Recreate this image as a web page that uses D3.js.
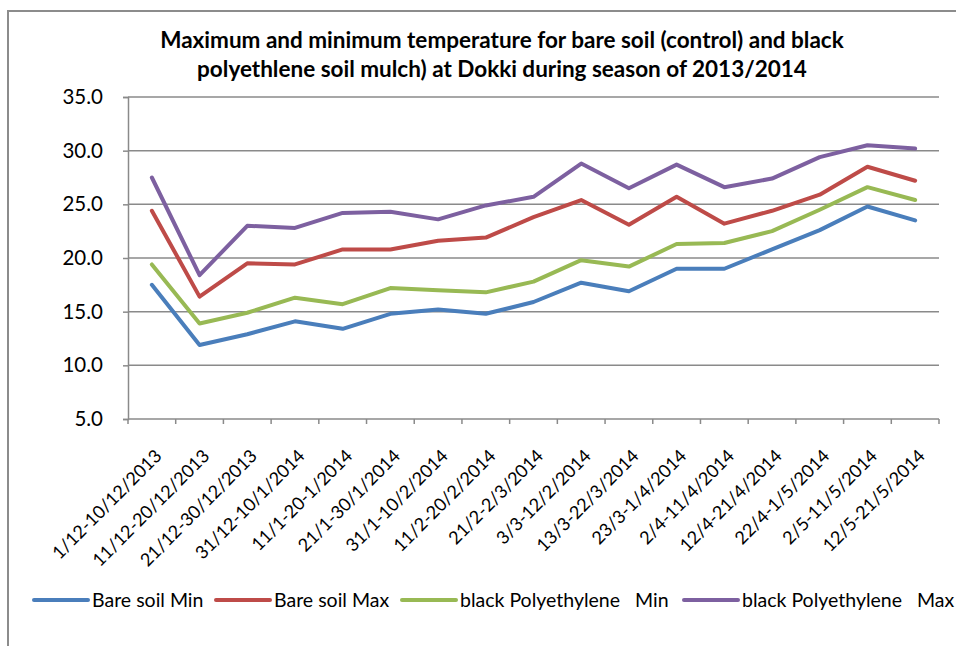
<!DOCTYPE html>
<html>
<head>
<meta charset="utf-8">
<script src="https://cdn.jsdelivr.net/npm/d3@7"></script>
<style>
  html, body { margin: 0; padding: 0; background: #fff; }
  svg { display: block; font-family: Lato, "Open Sans", sans-serif; }
</style>
</head>
<body>
<svg id="chart" width="956" height="646"></svg>
<script>
// Ten-day periods of the 2013/2014 season
const periods = [
  "1/12-10/12/2013", "11/12-20/12/2013", "21/12-30/12/2013", "31/12-10/1/2014",
  "11/1-20-1/2014", "21/1-30/1/2014", "31/1-10/2/2014", "11/2-20/2/2014",
  "21/2-2/3/2014", "3/3-12/2/2014", "13/3-22/3/2014", "23/3-1/4/2014",
  "2/4-11/4/2014", "12/4-21/4/2014", "22/4-1/5/2014", "2/5-11/5/2014",
  "12/5-21/5/2014"
];

// Soil temperatures (°C)
const bareSoilMin = [17.5, 11.9, 12.9, 14.1, 13.4, 14.8, 15.2, 14.8, 15.9, 17.7, 16.9, 19.0, 19.0, 20.8, 22.6, 24.8, 23.5];
const bareSoilMax = [24.4, 16.4, 19.5, 19.4, 20.8, 20.8, 21.6, 21.9, 23.8, 25.4, 23.1, 25.7, 23.2, 24.4, 25.9, 28.5, 27.2];
const blackPeMin  = [19.4, 13.9, 14.9, 16.3, 15.7, 17.2, 17.0, 16.8, 17.8, 19.8, 19.2, 21.3, 21.4, 22.5, 24.5, 26.6, 25.4];
const blackPeMax  = [27.5, 18.4, 23.0, 22.8, 24.2, 24.3, 23.6, 24.9, 25.7, 28.8, 26.5, 28.7, 26.6, 27.4, 29.4, 30.5, 30.2];

const yTicks = [5, 10, 15, 20, 25, 30, 35];

const seriesNames  = ["Bare soil Min", "Bare soil Max", "black Polyethylene   Min", "black Polyethylene   Max"];
const seriesColors = ["#4a7ebb", "#be4b48", "#98b954", "#7d60a0"];
const seriesValues = [bareSoilMin, bareSoilMax, blackPeMin, blackPeMax];

const titleLines = [
  "Maximum and minimum temperature for bare soil (control) and black",
  "polyethlene soil mulch) at Dokki during season of 2013/2014"
];

const svg = d3.select("#chart");
const plot = { left: 128, right: 939, top: 97, bottom: 419 };
const gridColor = "#8a8a8a";

// Chart frame
svg.append("path")
  .attr("d", `M8,646 V11 H956`)
  .attr("fill", "none")
  .attr("stroke", "#8c8c8c")
  .attr("stroke-width", 2);

// Title
svg.append("g").selectAll("text")
  .data(titleLines)
  .join("text")
  .attr("x", 502)
  .attr("y", (d, i) => 48 + i * 29)
  .attr("text-anchor", "middle")
  .attr("font-weight", "bold")
  .attr("font-size", 22.5)
  .attr("fill", "#000")
  .text(d => d);

const x = d3.scaleBand().domain(periods).range([plot.left, plot.right]);
const y = d3.scaleLinear().domain([5, 35]).range([plot.bottom, plot.top]);

// Horizontal gridlines
svg.append("g").selectAll("line")
  .data(yTicks.filter(t => t > 5))
  .join("line")
  .attr("x1", plot.left).attr("x2", plot.right)
  .attr("y1", d => y(d)).attr("y2", d => y(d))
  .attr("stroke", gridColor).attr("stroke-width", 1.5);

// Y axis
const yAxis = svg.append("g")
  .attr("transform", `translate(${plot.left},0)`)
  .call(d3.axisLeft(y).tickValues(yTicks).tickFormat(d3.format(".1f")).tickSize(5).tickPadding(20));
yAxis.select(".domain").attr("stroke", gridColor).attr("stroke-width", 1.5);
yAxis.selectAll(".tick line").attr("stroke", gridColor).attr("stroke-width", 1.5);
yAxis.selectAll(".tick text").attr("font-size", 20.5).attr("fill", "#000").attr("font-family", "Lato, sans-serif");

// X axis with ticks at the category boundaries
const xAxisG = svg.append("g");
xAxisG.append("line")
  .attr("x1", plot.left).attr("x2", plot.right)
  .attr("y1", plot.bottom).attr("y2", plot.bottom)
  .attr("stroke", gridColor).attr("stroke-width", 1.5);
const boundaries = periods.map(p => x(p)).concat([x.range()[1]]);
xAxisG.selectAll("line.tk")
  .data(boundaries)
  .join("line")
  .attr("class", "tk")
  .attr("x1", d => d).attr("x2", d => d)
  .attr("y1", plot.bottom).attr("y2", plot.bottom + 5)
  .attr("stroke", gridColor).attr("stroke-width", 1.5);

const cx = p => x(p) + x.bandwidth() / 2;

xAxisG.selectAll("text")
  .data(periods)
  .join("text")
  .attr("transform", d => `translate(${cx(d) + 11},${plot.bottom + 38}) rotate(-45)`)
  .attr("text-anchor", "end")
  .attr("font-size", 18)
  .attr("fill", "#000")
  .text(d => d);

// Series lines
const line = d3.line()
  .x((d, i) => cx(periods[i]))
  .y(d => y(d));

svg.append("g").selectAll("path")
  .data(seriesValues)
  .join("path")
  .attr("d", d => line(d))
  .attr("fill", "none")
  .attr("stroke", (d, i) => seriesColors[i])
  .attr("stroke-width", 4)
  .attr("stroke-linejoin", "round")
  .attr("stroke-linecap", "round");

// Legend
const legendX = [34, 216, 402, 684];
const legend = svg.append("g").selectAll("g")
  .data(seriesNames)
  .join("g")
  .attr("transform", (d, i) => `translate(${legendX[i]},600)`);
legend.append("line")
  .attr("x1", 0).attr("x2", 54)
  .attr("stroke", (d, i) => seriesColors[i])
  .attr("stroke-width", 4)
  .attr("stroke-linecap", "round");
legend.append("text")
  .attr("x", 58)
  .attr("y", 7)
  .attr("font-size", 19.5)
  .attr("fill", "#000")
  .style("white-space", "pre")
  .text(d => d);
</script>
</body>
</html>
